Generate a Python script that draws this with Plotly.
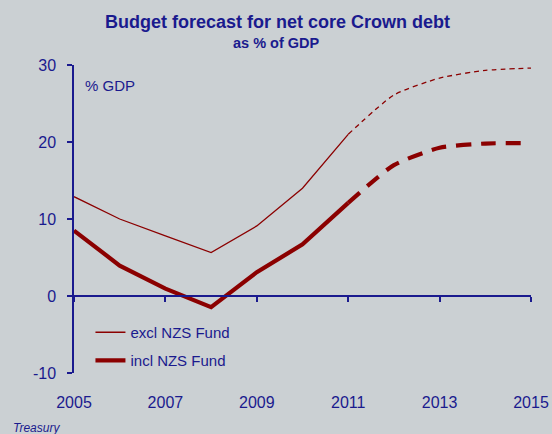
import plotly.graph_objects as go

years = [2005, 2006, 2007, 2008, 2009, 2010, 2011, 2012, 2013, 2014, 2015]
excl_nzs = [12.9, 10.0, 7.8, 5.65, 9.1, 14.0, 21.0, 26.1, 28.3, 29.3, 29.6]
incl_nzs = [8.5, 3.95, 0.95, -1.45, 3.1, 6.7, 12.1, 17.0, 19.25, 19.8, 19.85]
last_actual = 2011
x_ticks = [2005, 2007, 2009, 2011, 2013, 2015]
y_ticks = [-10, 0, 10, 20, 30]
y_tick_text = ["-10", "0", "10", "20", "30"]

NAVY = "#1a1a8e"
RED = "#8b0000"
FONT = "Arial, Liberation Sans, sans-serif"
BG = "#cbd0d3"

i = years.index(last_actual)

fig = go.Figure()
fig.add_trace(go.Scatter(x=years[:i + 1], y=excl_nzs[:i + 1], mode="lines",
                         line=dict(color=RED, width=1.3), name="excl NZS Fund",
                         legend="legend"))
fig.add_trace(go.Scatter(x=years[i:], y=excl_nzs[i:], mode="lines",
                         line=dict(color=RED, width=1.3, dash="5px,4px", shape="spline", smoothing=0.6),
                         showlegend=False))
fig.add_trace(go.Scatter(x=years[:i + 1], y=incl_nzs[:i + 1], mode="lines",
                         line=dict(color=RED, width=4.2), name="incl NZS Fund",
                         legend="legend2"))
fig.add_trace(go.Scatter(x=years[i:], y=incl_nzs[i:], mode="lines",
                         line=dict(color=RED, width=4.2, dash="15px,10px", shape="spline", smoothing=0.6),
                         showlegend=False))
# invisible trace for the zero-line axis
fig.add_trace(go.Scatter(x=[years[0]], y=[0], xaxis="x2", mode="markers",
                         marker=dict(opacity=0), showlegend=False, hoverinfo="skip"))

fig.update_layout(
    width=552, height=434,
    margin=dict(l=74, r=21, t=65, b=61),
    paper_bgcolor=BG, plot_bgcolor=BG,
    font=dict(family=FONT, color=NAVY, size=15),
    showlegend=True,
    xaxis=dict(range=[2005, 2015], tickvals=x_ticks, ticktext=[str(v) for v in x_ticks],
               showline=False, showgrid=False, zeroline=False, ticks="", automargin=False,
               ticklabelstandoff=18, tickfont=dict(size=16, color=NAVY)),
    xaxis2=dict(range=[2005, 2015], overlaying="x", anchor="free", position=0.25,
                side="bottom", tickvals=x_ticks, showticklabels=False, automargin=False,
                ticks="outside", ticklen=5, tickcolor=NAVY, tickwidth=1.5,
                showline=True, linecolor=NAVY, linewidth=1.5, showgrid=False, zeroline=False),
    yaxis=dict(range=[-10, 30], tickvals=y_ticks, ticktext=y_tick_text, automargin=False,
               showgrid=False, zeroline=False,
               showline=True, linecolor=NAVY, linewidth=1.5, ticks="outside",
               ticklen=5, tickcolor=NAVY, tickwidth=1.5, ticklabelstandoff=8,
               tickfont=dict(size=16, color=NAVY)),
    legend=dict(x=0.036, y=0.185, xanchor="left", yanchor="top", bgcolor="rgba(0,0,0,0)",
                font=dict(size=15, color=NAVY), itemwidth=30),
    legend2=dict(x=0.036, y=0.094, xanchor="left", yanchor="top", bgcolor="rgba(0,0,0,0)",
                 font=dict(size=15, color=NAVY), itemwidth=30),
    annotations=[
        dict(text="<b>Budget forecast for net core Crown debt</b>", xref="paper", yref="paper",
             x=0.445, y=1.0, xshift=0, yshift=43, xanchor="center", yanchor="middle", showarrow=False,
             font=dict(size=18, color=NAVY)),
        dict(text="<b>as % of GDP</b>", xref="paper", yref="paper",
             x=0.445, y=1.0, xshift=-1, yshift=22, xanchor="center", yanchor="middle", showarrow=False,
             font=dict(size=14.5, color=NAVY)),
        dict(text="% GDP", xref="paper", yref="paper", x=0.02, y=1.0, yshift=-20,
             xanchor="left", yanchor="middle", showarrow=False, font=dict(size=15, color=NAVY)),
        dict(text="<i>Treasury</i>", xref="paper", yref="paper", x=0, y=0, xshift=-63, yshift=-55,
             xanchor="left", yanchor="middle", showarrow=False, font=dict(size=12, color=NAVY)),
    ],
)

fig.write_html("out.html")
